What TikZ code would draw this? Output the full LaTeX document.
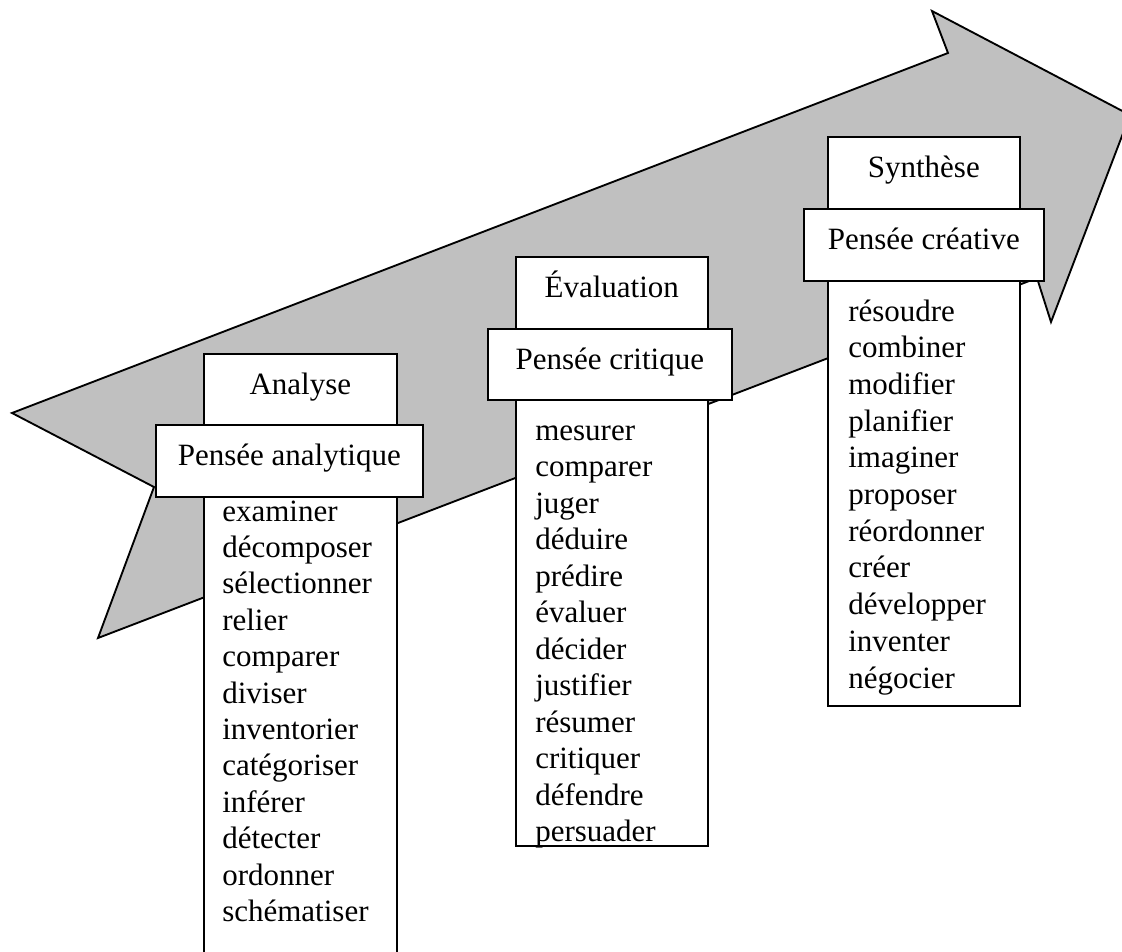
\documentclass[tikz,border=0pt]{standalone}
\usepackage{fontspec}
\setmainfont{Liberation Serif}
\definecolor{arrowgrey}{RGB}{192,192,192}
\begin{document}
\begin{tikzpicture}[x=0.75pt,y=-0.75pt,
  every node/.style={font=\fontsize{23.25pt}{27.3pt}\selectfont},
  frame/.style={draw=black, line width=1.2pt, fill=white, inner sep=0pt, anchor=north west},
  heading/.style={frame, text height=16pt, text depth=8.5pt, align=center},
  word/.style={anchor=base west, inner sep=0pt},
]
\clip (0,0) rectangle (1122,951);
\fill[white] (0,0) rectangle (1122,951);

% grey notched arrow rising to the right
\coordinate (tailTop) at (12,413);
\coordinate (upNotch) at (948,53);
\coordinate (upBarb) at (932,11);
\coordinate (tip) at (1130,115);
\coordinate (lowBarb) at (1051,322);
\coordinate (lowNotch) at (1037,278);
\coordinate (tailBottom) at (98,638);
\coordinate (tailNotch) at (154,487);
\draw[fill=arrowgrey, line width=1.4pt, line join=miter]
  (tailTop) -- (upNotch) -- (upBarb) -- (tip) -- (lowBarb) -- (lowNotch)
  -- (tailBottom) -- (tailNotch) -- cycle;

% Analyse
\node[heading, minimum width=193*0.75pt, minimum height=71*0.75pt] (anaTitle) at (203,353) {Analyse};
\node[frame, minimum width=193*0.75pt, minimum height=520*0.75pt] (anaList) at (203,496) {};
\node[heading, minimum width=267*0.75pt, minimum height=72*0.75pt] (anaThink) at (155,424) {Pensée analytique};
\foreach \w [count=\i] in {examiner,décomposer,sélectionner,relier,comparer,diviser,inventorier,catégoriser,inférer,détecter,ordonner,schématiser}
  \node[word] (ana-\i) at (222,{521+(\i-1)*36.4}) {\w};

% Évaluation
\node[heading, minimum width=192*0.75pt, minimum height=72*0.75pt] (evaTitle) at (515,256) {Évaluation};
\node[frame, minimum width=192*0.75pt, minimum height=446*0.75pt] (evaList) at (515,399) {};
\node[heading, minimum width=244*0.75pt, minimum height=71*0.75pt] (evaThink) at (487,328) {Pensée critique};
\foreach \w [count=\i] in {mesurer,comparer,juger,déduire,prédire,évaluer,décider,justifier,résumer,critiquer,défendre,persuader}
  \node[word] (eva-\i) at (535,{440+(\i-1)*36.5}) {\w};

% Synthèse
\node[heading, minimum width=192*0.75pt, minimum height=72*0.75pt] (synTitle) at (827,136) {Synthèse};
\node[frame, minimum width=192*0.75pt, minimum height=425*0.75pt] (synList) at (827,280) {};
\node[heading, minimum width=240*0.75pt, minimum height=72*0.75pt] (synThink) at (803,208) {Pensée créative};
\foreach \w [count=\i] in {résoudre,combiner,modifier,planifier,imaginer,proposer,réordonner,créer,développer,inventer,négocier}
  \node[word] (syn-\i) at (848,{321+(\i-1)*36.7}) {\w};
\end{tikzpicture}
\end{document}
